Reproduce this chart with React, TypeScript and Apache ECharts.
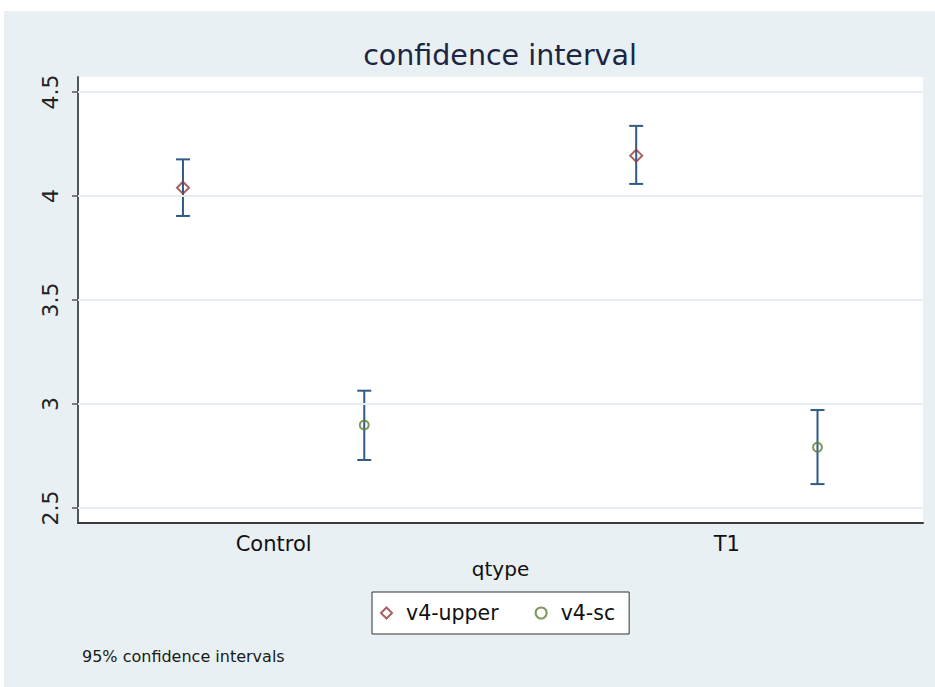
import React, { useEffect, useRef } from "react";
import * as echarts from "echarts";

// Groups on the x axis and the two measures plotted for each group
const categories = ["Control", "T1"];
const seriesNames = ["v4-upper", "v4-sc"];

// Means and 95% confidence bounds
const upperMean = [4.04, 4.194];
const upperLow = [3.904, 4.058];
const upperHigh = [4.176, 4.337];

const scMean = [2.899, 2.792];
const scLow = [2.731, 2.615];
const scHigh = [3.064, 2.971];

const yTicks = [2.5, 3, 3.5, 4, 4.5];

const FONT = "DejaVu Sans";
const BAR_COLOR = "#2f5b86";
const UPPER_COLOR = "#8f3a3e";
const SC_COLOR = "#5f7f34";

// group centres on the numeric x axis, each measure offset half a unit either side
const xCenters = categories.map((_, i) => 1.5 + i * 2.5);
const OFFSET = 0.5;

export default function App() {
  const ref = useRef<HTMLDivElement>(null);

  useEffect(() => {
    if (!ref.current) return;
    const chart = echarts.init(ref.current, undefined, { renderer: "svg" });

    const upperPts = categories.map((_, i) => [xCenters[i] - OFFSET, upperMean[i]]);
    const scPts = categories.map((_, i) => [xCenters[i] + OFFSET, scMean[i]]);
    const bars = categories.flatMap((_, i) => [
      [xCenters[i] - OFFSET, upperLow[i], upperHigh[i]],
      [xCenters[i] + OFFSET, scLow[i], scHigh[i]],
    ]);

    const option: any = {
      animation: false,
      backgroundColor: "#ffffff",
      textStyle: { fontFamily: FONT },
      title: {
        text: "confidence interval",
        left: 500,
        top: 41,
        textAlign: "center",
        padding: 0,
        textStyle: { fontFamily: FONT, fontSize: 28.5, fontWeight: "normal", color: "#1c2541" },
      },
      graphic: [
        {
          type: "rect",
          z: -100,
          shape: { x: 4, y: 11, width: 931, height: 676 },
          style: { fill: "#e8f0f3" },
        },
        {
          type: "text",
          x: 82,
          y: 648,
          style: { text: "95% confidence intervals", font: `16px "${FONT}"`, fill: "#1a1a1a" },
        },
      ],
      legend: {
        data: seriesNames,
        left: 372,
        top: 592,
        orient: "horizontal",
        backgroundColor: "#ffffff",
        borderColor: "#333333",
        borderWidth: 1,
        borderRadius: 0,
        padding: [9, 14, 9, 8],
        itemWidth: 11,
        itemHeight: 11,
        itemGap: 36,
        textStyle: {
          fontFamily: FONT,
          fontSize: 20.5,
          color: "#111111",
          lineHeight: 24,
          padding: [0, 0, 0, 9],
        },
      },
      grid: {
        left: 78,
        right: 12,
        top: 77,
        bottom: 164,
        show: true,
        backgroundColor: "#ffffff",
        borderWidth: 0,
        containLabel: false,
      },
      xAxis: {
        type: "value",
        min: 0.421,
        max: 5.082,
        name: "qtype",
        nameLocation: "middle",
        nameGap: 26,
        nameTextStyle: { fontFamily: FONT, fontSize: 20, color: "#111111" },
        axisLine: { show: true, lineStyle: { color: "#3a3a3a", width: 2 } },
        axisTick: { show: false },
        splitLine: { show: false },
        axisLabel: {
          customValues: xCenters,
          formatter: (v: number) => {
            const i = xCenters.findIndex((c) => Math.abs(c - v) < 1e-6);
            return i >= 0 ? categories[i] : "";
          },
          margin: 10,
          fontFamily: FONT,
          fontSize: 21,
          color: "#111111",
        },
      },
      yAxis: {
        type: "value",
        min: 2.428,
        max: 4.572,
        axisLine: { show: true, lineStyle: { color: "#555555", width: 2 } },
        axisTick: {
          show: true,
          customValues: yTicks,
          length: 6,
          lineStyle: { color: "#555555", width: 1.5 },
        },
        splitLine: { show: false },
        axisLabel: {
          customValues: yTicks,
          rotate: 90,
          margin: 17,
          fontFamily: FONT,
          fontSize: 22,
          color: "#222222",
        },
      },
      series: [
        {
          name: "gridlines",
          type: "line",
          data: [],
          z: 1,
          silent: true,
          markLine: {
            silent: true,
            symbol: ["none", "none"],
            label: { show: false },
            lineStyle: { color: "#e4edf0", width: 2, type: "solid" },
            data: yTicks.map((v) => ({ yAxis: v })),
          },
        },
        {
          name: "ci",
          type: "custom",
          z: 2,
          silent: true,
          data: bars,
          encode: { x: 0, y: [1, 2] },
          renderItem: (_params: any, api: any) => {
            const x = api.value(0);
            const lo = api.coord([x, api.value(1)]);
            const hi = api.coord([x, api.value(2)]);
            const w = 7;
            const style = { stroke: BAR_COLOR, lineWidth: 2, fill: "none" };
            return {
              type: "group",
              children: [
                { type: "line", shape: { x1: lo[0], y1: lo[1], x2: hi[0], y2: hi[1] }, style },
                { type: "line", shape: { x1: lo[0] - w, y1: lo[1], x2: lo[0] + w, y2: lo[1] }, style },
                { type: "line", shape: { x1: hi[0] - w, y1: hi[1], x2: hi[0] + w, y2: hi[1] }, style },
              ],
            };
          },
        },
        {
          name: seriesNames[0],
          type: "scatter",
          z: 3,
          symbol: "diamond",
          symbolSize: 12,
          data: upperPts,
          itemStyle: { color: "rgba(255,255,255,0)", borderColor: UPPER_COLOR, borderWidth: 2 },
        },
        {
          name: seriesNames[1],
          type: "scatter",
          z: 3,
          symbol: "circle",
          symbolSize: 9,
          data: scPts,
          itemStyle: { color: "rgba(255,255,255,0)", borderColor: SC_COLOR, borderWidth: 2 },
        },
      ],
    };

    chart.setOption(option);
    return () => chart.dispose();
  }, []);

  return (
    <div
      ref={ref}
      style={{ position: "absolute", left: 0, top: 0, width: 935, height: 687, background: "#ffffff" }}
    />
  );
}
